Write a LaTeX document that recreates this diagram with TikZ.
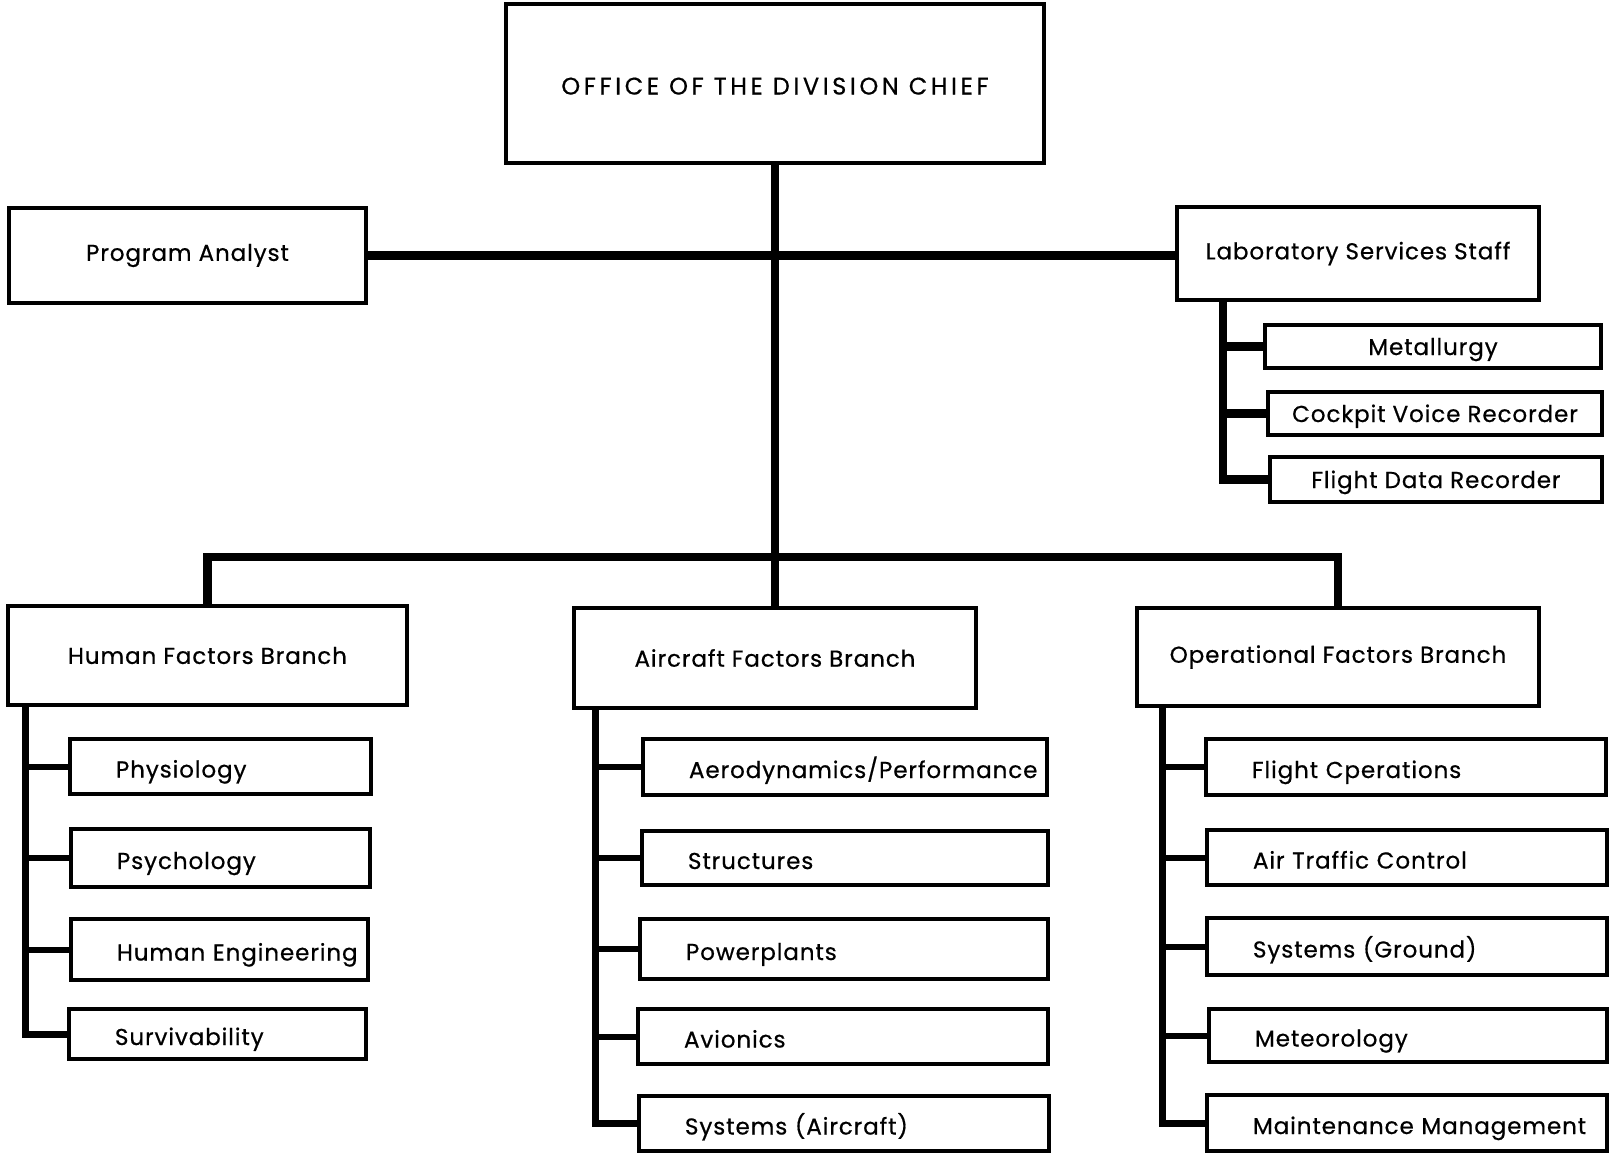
\documentclass[tikz,border=0pt]{standalone}
\usepackage{fontspec}
\setmainfont{Poppins}
\newfontfamily\boxfont{Poppins}[LetterSpace=4, FakeBold=0.6]
\newfontfamily\chieffont{Poppins}[LetterSpace=15, FakeBold=0.6]
\begin{document}
\begin{tikzpicture}[x=1pt,y=-1pt,
  box/.style={draw, line width=4.5pt, inner sep=0pt, outer sep=0pt, font=\boxfont\fontsize{23}{26}\selectfont},
  sub/.style={box, text width=#1, align=left, inner xsep=0pt, text height=24pt, text depth=2pt, execute at begin node={\hspace*{46pt}}},
  conn/.style={line width=8.5pt},
  spine/.style={line width=7pt},
  twig/.style={line width=6pt}]
\useasboundingbox (0,0) rectangle (1609,1154);
% top level
\node[box, minimum width=538pt, minimum height=159pt, font=\chieffont\fontsize{24}{26}\selectfont, text height=22pt, text depth=0pt] (chief) at (775,83.5) {OFFICE OF THE DIVISION CHIEF};
\node[box, minimum width=357pt, minimum height=95pt] (pa) at (187.5,255.5) {Program Analyst};
\node[box, minimum width=362pt, minimum height=93pt] (lab) at (1358,253.5) {Laboratory Services Staff};
\node[box, minimum width=336pt, minimum height=43pt, text height=20pt, text depth=3pt] (met) at (1433,346.5) {Metallurgy};
\node[box, minimum width=334pt, minimum height=43pt, text height=20pt, text depth=3pt] (cvr) at (1435,413.5) {Cockpit Voice Recorder};
\node[box, minimum width=332pt, minimum height=45pt, text height=20pt, text depth=3pt] (fdr) at (1436,479.5) {Flight Data Recorder};
% branches
\node[box, minimum width=399pt, minimum height=99pt] (hfb) at (207.5,655.5) {Human Factors Branch};
\node[box, minimum width=402pt, minimum height=100pt] (afb) at (775,658) {Aircraft Factors Branch};
\node[box, minimum width=402pt, minimum height=98pt] (ofb) at (1338,657) {Operational Factors Branch};
% human factors
\node[sub=301pt, minimum height=55pt] (phy) at (220.5,766.5) {Physiology};
\node[sub=299pt, minimum height=58pt] (psy) at (220.5,858) {Psychology};
\node[sub=297pt, minimum height=61pt] (heng) at (219.5,949.5) {Human Engineering};
\node[sub=297pt, minimum height=50pt] (surv) at (217.5,1034) {Survivability};
% aircraft factors
\node[sub=404pt, minimum height=56pt] (aero) at (845,767) {Aerodynamics/Performance};
\node[sub=406pt, minimum height=54pt] (str) at (845,858) {Structures};
\node[sub=408pt, minimum height=60pt] (pow) at (844,949) {Powerplants};
\node[sub=410pt, minimum height=55pt] (avi) at (843,1036.5) {Avionics};
\node[sub=410pt, minimum height=55pt] (sysa) at (844,1123.5) {Systems (Aircraft)};
% operational factors
\node[sub=400pt, minimum height=56pt] (fops) at (1406,767) {Flight Cperations};
\node[sub=400pt, minimum height=55pt] (atc) at (1407,857.5) {Air Traffic Control};
\node[sub=400pt, minimum height=57pt] (sysg) at (1407,946.5) {Systems (Ground)};
\node[sub=398pt, minimum height=53pt] (met2) at (1408,1035.5) {Meteorology};
\node[sub=400pt, minimum height=56pt] (mm) at (1407,1123) {Maintenance Management};
% main connectors
\draw[conn] (chief.south) -- (chief.south |- afb.north);
\draw[conn] (pa.east) -- (pa.east -| lab.west);
\draw[conn] (hfb.north) -- ++(0,-49) -| (ofb.north);
% lab staff
\coordinate (labsp) at ([xshift=46pt]lab.south west);
\draw[conn] (labsp) |- (fdr.west);
\draw[conn] (labsp |- met.west) -- (met.west);
\draw[conn] (labsp |- cvr.west) -- (cvr.west);
% human spine
\coordinate (hsp) at ([xshift=17pt]hfb.south west);
\draw[spine] (hsp) |- (surv.west);
\draw[twig] (hsp |- phy.west) -- (phy.west);
\draw[twig] (hsp |- psy.west) -- (psy.west);
\draw[twig] (hsp |- heng.west) -- (heng.west);
% aircraft spine
\coordinate (asp) at ([xshift=21pt]afb.south west);
\draw[spine] (asp) |- (sysa.west);
\draw[twig] (asp |- aero.west) -- (aero.west);
\draw[twig] (asp |- str.west) -- (str.west);
\draw[twig] (asp |- pow.west) -- (pow.west);
\draw[twig] (asp |- avi.west) -- (avi.west);
% operational spine
\coordinate (osp) at ([xshift=25pt]ofb.south west);
\draw[spine] (osp) |- (mm.west);
\draw[twig] (osp |- fops.west) -- (fops.west);
\draw[twig] (osp |- atc.west) -- (atc.west);
\draw[twig] (osp |- sysg.west) -- (sysg.west);
\draw[twig] (osp |- met2.west) -- (met2.west);
\end{tikzpicture}
\end{document}
